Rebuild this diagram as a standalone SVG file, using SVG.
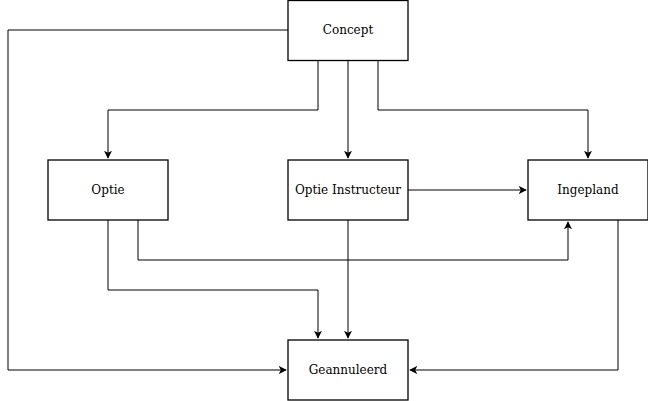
<svg xmlns="http://www.w3.org/2000/svg" width="648" height="401" viewBox="0 0 648 401">
<style>
.box{fill:#fff;stroke:#000;stroke-width:1.3}
.lbl{font-family:"DejaVu Serif",serif;font-size:12px;fill:#000;text-anchor:middle;dominant-baseline:central}
.c{fill:none;stroke:#000;stroke-width:1}
</style>
<defs>
<marker id="a" viewBox="0 0 10 10" refX="9" refY="5" markerWidth="8" markerHeight="8" markerUnits="userSpaceOnUse" orient="auto">
<path d="M0,0 L10,5 L0,10 L2.5,5 Z" fill="#000"/>
</marker>
</defs>
<rect width="648" height="401" fill="#fff"/>
<g id="connectors">
<path class="c" d="M288,30 H8 V370 H286" marker-end="url(#a)"/>
<path class="c" d="M318,60 V110 H108 V158" marker-end="url(#a)"/>
<path class="c" d="M348,60 V158" marker-end="url(#a)"/>
<path class="c" d="M378,60 V110 H588 V158" marker-end="url(#a)"/>
<path class="c" d="M408,190 H526" marker-end="url(#a)"/>
<path class="c" d="M138,220 V260 H568 V222" marker-end="url(#a)"/>
<path class="c" d="M108,220 V290 H318 V338" marker-end="url(#a)"/>
<path class="c" d="M348,220 V338" marker-end="url(#a)"/>
<path class="c" d="M618,220 V370 H410" marker-end="url(#a)"/>
</g>
<g id="concept"><rect class="box" x="288" y="0.5" width="120" height="60"/><text class="lbl" x="348" y="30">Concept</text></g>
<g id="optie"><rect class="box" x="48" y="160" width="120" height="60"/><text class="lbl" x="108" y="190">Optie</text></g>
<g id="optie-instructeur"><rect class="box" x="288" y="160" width="120" height="60"/><text class="lbl" x="348" y="190">Optie Instructeur</text></g>
<g id="ingepland"><rect class="box" x="528" y="160" width="120" height="60"/><text class="lbl" x="588" y="190">Ingepland</text></g>
<g id="geannuleerd"><rect class="box" x="288" y="340" width="120" height="60"/><text class="lbl" x="348" y="370">Geannuleerd</text></g>
</svg>
